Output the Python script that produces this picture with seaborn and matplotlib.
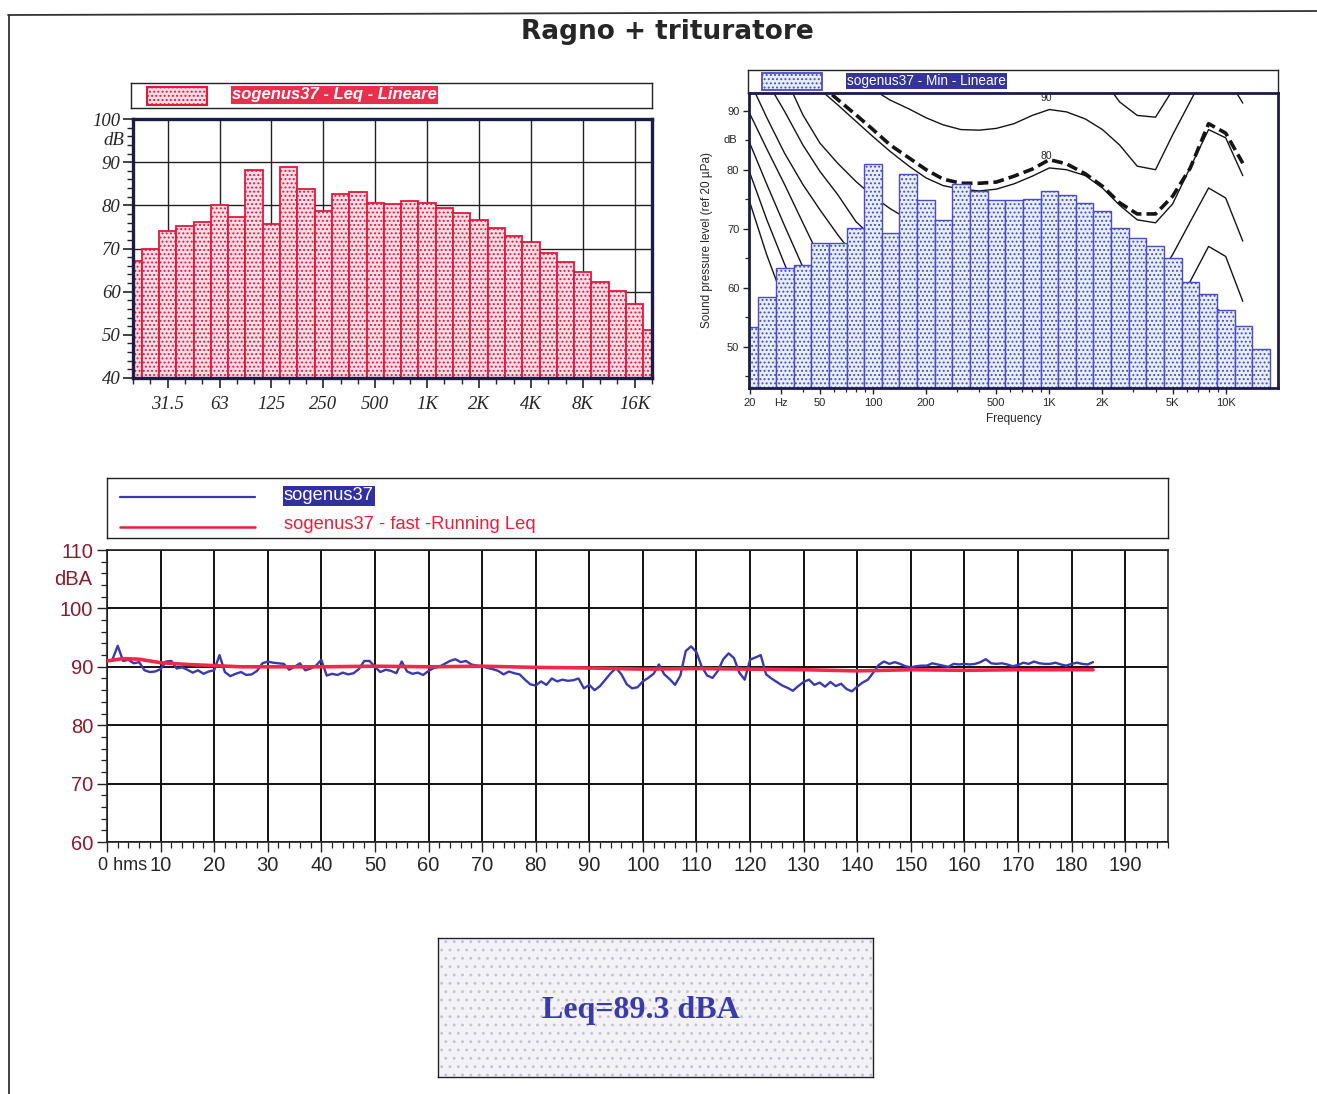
import numpy as np
import matplotlib
matplotlib.use("Agg")
import matplotlib.pyplot as plt
from matplotlib.lines import Line2D
from matplotlib.patches import Rectangle
from matplotlib.ticker import FixedLocator, MultipleLocator, NullFormatter, LogLocator
import seaborn as sns

# ---------------- data ----------------
TITLE = "Ragno + trituratore"

# left panel: 1/3 octave Leq spectrum (linear)
leq_bands = ["20", "25", "31.5", "40", "50", "63", "80", "100", "125", "160", "200", "250",
             "315", "400", "500", "630", "800", "1K", "1.25K", "1.6K", "2K", "2.5K", "3.15K",
             "4K", "5K", "6.3K", "8K", "10K", "12.5K", "16K", "20K"]
leq_db = [67.2, 69.9, 74.1, 75.1, 76.2, 80.0, 77.2, 88.2, 75.7, 88.9, 83.7, 78.8,
          82.6, 83.2, 80.6, 80.3, 81.0, 80.6, 79.3, 78.3, 76.5, 74.8, 72.8,
          71.4, 69.0, 66.8, 64.5, 62.3, 60.1, 57.2, 51.1]
leq_tick_labels = ["31.5", "63", "125", "250", "500", "1K", "2K", "4K", "8K", "16K"]
leq_legend = "sogenus37 - Leq - Lineare"

# right panel: 1/3 octave Min spectrum with equal-loudness contours
min_hz = [20, 25, 31.5, 40, 50, 63, 80, 100, 125, 160, 200, 250, 315, 400, 500, 630, 800,
          1000, 1250, 1600, 2000, 2500, 3150, 4000, 5000, 6300, 8000, 10000, 12500, 16000]
min_db = [53.4, 58.5, 63.3, 63.8, 67.5, 67.5, 70.1, 80.9, 69.3, 79.2, 74.8, 71.4, 77.5, 76.4,
          74.9, 74.9, 75.1, 76.4, 75.7, 74.3, 73.0, 70.2, 68.4, 67.0, 65.0, 61.0, 58.9, 56.2,
          53.5, 49.6]
min_legend = "sogenus37 - Min - Lineare"
min_tick_hz = [20, 30, 50, 100, 200, 500, 1000, 2000, 5000, 10000]
min_tick_labels = ["20", "Hz", "50", "100", "200", "500", "1K", "2K", "5K", "10K"]

c100_hz = [1250, 1600, 2000, 2500, 3150, 4000, 5000, 6300]
c100_db = [103.0, 99.5, 95.5, 91.5, 89.2, 88.9, 93.5, 100.0]
c90_hz = [63, 80, 100, 125, 160, 200, 250, 315, 400, 500, 630, 800, 1000, 1250, 1600, 2000,
          2500, 3150, 4000, 5000, 6300, 8000, 10000, 12500]
c90_db = [100.5, 96.8, 93.6, 91.8, 90.3, 88.8, 87.6, 86.8, 86.7, 87.0, 87.8, 89.2, 90.2, 89.8,
          88.6, 86.8, 84.2, 80.6, 80.0, 85.9, 91.6, 97.5, 96.0, 91.3]
c80_hz = [40, 50, 63, 80, 100, 125, 160, 200, 250, 315, 400, 500, 630, 800, 1000, 1250, 1600,
          2000, 2500, 3150, 4000, 5000, 6300, 8000, 10000, 12500]
c80_db = [98.0, 93.6, 91.0, 88.2, 85.6, 83.1, 80.6, 78.6, 77.3, 76.7, 76.4, 76.7, 77.6, 78.9,
          80.3, 80.0, 79.0, 76.9, 74.0, 71.5, 71.0, 74.2, 80.4, 86.8, 85.4, 79.0]
cref_hz = [40, 50, 63, 80, 100, 125, 160, 200, 250, 315, 400, 500, 630, 800, 1000, 1250, 1600,
           2000, 2500, 3150, 4000, 5000, 6300, 8000, 10000, 12500]
cref_db = [99.0, 94.5, 91.9, 89.3, 86.8, 84.2, 82.0, 80.0, 78.4, 77.7, 77.7, 77.9, 78.9, 80.1,
           81.7, 81.0, 79.3, 77.2, 74.4, 72.5, 72.5, 75.5, 80.3, 87.8, 86.2, 81.1]
c70_hz = [31.5, 40, 50, 63, 80, 100, 125, 160, 200, 250, 315, 400, 500, 630, 800, 1000, 1250,
          1600, 2000, 2500, 3150, 4000, 5000, 6300, 8000, 10000, 12500]
c70_db = [96.0, 89.3, 84.5, 81.1, 78.0, 75.5, 73.4, 71.5, 69.8, 68.5, 67.5, 67.0, 67.0, 67.8,
          69.0, 70.3, 70.0, 69.0, 67.0, 64.0, 61.5, 61.0, 65.6, 71.2, 76.9, 75.2, 67.9]
c60_hz = [25, 31.5, 40, 50, 63, 80, 100, 125, 160, 200, 250, 315, 400, 500, 630, 800, 1000,
          1250, 1600, 2000, 2500, 3150, 4000, 5000, 6300, 8000, 10000, 12500]
c60_db = [95.0, 89.9, 84.2, 79.7, 75.8, 71.2, 68.5, 66.0, 63.5, 61.5, 60.0, 58.8, 58.0, 57.8,
          58.2, 59.2, 60.3, 60.0, 59.0, 57.0, 54.5, 52.0, 51.5, 55.5, 61.1, 67.0, 65.3, 57.7]
c50_hz = [20, 25, 31.5, 40, 50, 63, 80, 100, 125, 160, 200, 250, 315, 400, 500, 630, 800, 1000,
          1250, 1600, 2000, 2500, 3150, 4000, 5000, 6300, 8000, 10000, 12500]
c50_db = [95.0, 88.8, 82.8, 77.5, 73.2, 69.0, 65.0, 62.0, 59.5, 57.0, 55.0, 53.5, 52.0, 51.0,
          50.2, 49.8, 49.5, 50.3, 50.0, 49.0, 47.0, 44.5, 42.5, 42.0, 45.5, 51.0, 57.2, 55.5, 48.0]
c40_hz = [20, 25, 31.5, 40, 50, 63, 80, 100, 125]
c40_db = [89.5, 83.5, 77.5, 71.0, 65.0, 60.0, 55.5, 52.0, 49.0]
c30_hz = [20, 25, 31.5, 40, 50, 63, 80]
c30_db = [84.5, 77.5, 70.5, 63.5, 57.5, 52.0, 47.5]
c20_hz = [20, 25, 31.5, 40, 50, 63]
c20_db = [79.5, 71.5, 64.0, 56.5, 50.0, 44.5]
c10_hz = [20, 25, 31.5, 40, 50]
c10_db = [74.5, 65.5, 57.5, 50.0, 43.5]

# bottom panel: time history (s, dBA)
time_s = list(range(0, 185))
level_dba = [
    91.0, 91.2, 93.6, 91.0, 91.2, 90.6, 90.8, 89.4, 89.1, 89.2,
    89.6, 90.9, 91.0, 89.7, 89.9, 89.5, 89.0, 89.4, 88.8, 89.2,
    89.4, 92.0, 89.1, 88.4, 88.8, 89.1, 88.6, 88.7, 89.3, 90.6,
    90.9, 90.7, 90.6, 90.5, 89.5, 90.0, 90.6, 89.4, 89.7, 90.2,
    91.2, 88.5, 88.8, 88.6, 89.0, 88.7, 88.9, 89.6, 91.0, 91.0,
    90.0, 89.1, 89.5, 89.3, 88.9, 90.9, 89.2, 88.8, 89.0, 88.6,
    89.3, 89.8, 90.0, 90.5, 91.0, 91.3, 90.8, 91.0, 90.4, 90.2,
    90.1, 89.8, 89.6, 89.3, 88.7, 89.2, 88.9, 88.7, 87.8, 87.0,
    86.8, 87.5, 86.9, 88.0, 87.5, 87.8, 87.6, 87.7, 88.0, 86.3,
    86.9, 86.0, 86.7, 87.8, 88.9, 89.8, 88.7, 87.0, 86.3, 86.5,
    87.5, 88.1, 88.8, 90.4, 88.7, 87.9, 86.9, 88.5, 92.7, 93.5,
    92.5, 90.0, 88.5, 88.1, 89.3, 91.3, 92.3, 91.5, 89.0, 87.8,
    91.2, 91.6, 92.0, 88.7, 88.0, 87.4, 86.8, 86.4, 85.9, 86.7,
    87.4, 87.8, 86.9, 87.3, 86.6, 87.4, 86.7, 87.1, 86.2, 85.8,
    86.6, 87.3, 87.8, 89.0, 90.3, 90.9, 90.5, 90.8, 90.5, 90.1,
    89.9, 90.1, 90.2, 90.2, 90.6, 90.4, 90.2, 90.0, 90.5, 90.4,
    90.5, 90.4, 90.5, 90.8, 91.3, 90.6, 90.5, 90.6, 90.4, 90.1,
    90.3, 90.7, 90.5, 90.9, 90.6, 90.5, 90.5, 90.7, 90.4, 90.2,
    90.5, 90.7, 90.5, 90.4, 90.8]
run_t = [0, 3, 6, 10, 15, 20, 25, 30, 40, 50, 60, 70, 80, 90, 100, 110, 120, 130, 140, 150,
         160, 170, 184]
run_leq = [91.0, 91.4, 91.3, 90.7, 90.4, 90.2, 90.0, 90.0, 90.0, 90.1, 90.0, 90.1, 89.9, 89.8,
           89.6, 89.7, 89.6, 89.5, 89.3, 89.5, 89.4, 89.5, 89.5]
time_ticks = list(range(0, 191, 10))
time_labels = [""] + [str(v) for v in time_ticks[1:]]
time_origin_label = "0 hms"
series_names = ["sogenus37", "sogenus37 - fast -Running Leq"]
LEQ_TEXT = "Leq=89.3 dBA"

# ---------------- style ----------------
sns.set_style("white")
plt.rcParams["font.family"] = ["DejaVu Sans"]
plt.rcParams["hatch.linewidth"] = 0.9

NARROW = ["Liberation Sans", "DejaVu Sans"]
SERIF = ["Liberation Serif", "DejaVu Serif"]
SANS = ["Liberation Sans", "DejaVu Sans"]
NAVY = "#1c1c48"
RED = "#e8163c"
PINK = "#fbdde6"
BLUE = "#4c4cc4"
LBLUE = "#e6eef9"
DARKRED = "#8c1a2c"

W, H = 1317, 1094
fig = plt.figure(figsize=(W / 100, H / 100), dpi=100)
fig.patch.set_facecolor("white")


def box(x0, y0, x1, y1):
    return [x0 / W, 1 - y1 / H, (x1 - x0) / W, (y1 - y0) / H]


def blank(ax):
    ax.set_xlim(0, 1)
    ax.set_ylim(0, 1)
    ax.set_xticks([])
    ax.set_yticks([])
    for s in ax.spines.values():
        s.set_visible(True)
        s.set_color("#222222")
        s.set_linewidth(1.0)


# page frame and title
fig.add_artist(Line2D([8 / W, 1.0], [1 - 15 / H, 1 - 11 / H], transform=fig.transFigure,
                      color="#333333", lw=1.3))
fig.add_artist(Line2D([9 / W, 9 / W], [1 - 15 / H, 0.0], transform=fig.transFigure,
                      color="#333333", lw=1.3))
fig.text(667 / W, 1 - 32 / H, TITLE, ha="center", va="center", fontsize=19,
         fontweight="bold", family=["DejaVu Sans"])

# ---------------- left panel ----------------
lg1 = fig.add_axes(box(131, 83, 652, 108))
blank(lg1)
lg1.add_patch(Rectangle((16 / 521, 0.12), 60 / 521, 0.72, facecolor=PINK, edgecolor=RED,
                        hatch="....", lw=1.5))
lg1.text(101 / 521, 0.52, leq_legend, ha="left", va="center", color="white", fontsize=12,
         fontstyle="italic", fontweight="bold", family=SANS,
         bbox=dict(facecolor="#e8304c", edgecolor="none", pad=1.0))

ax1 = fig.add_axes(box(133, 119, 652, 378))
sns.barplot(x=leq_bands, y=leq_db, order=leq_bands, ax=ax1, color=PINK, saturation=1,
            width=1.0, edgecolor=RED, linewidth=1.3, hatch="....", errorbar=None, zorder=3)
ax1.set_xlim(0, len(leq_bands) - 1)
ax1.set_ylim(40, 100)
major_idx = [leq_bands.index(l) for l in leq_tick_labels]
ax1.set_xticks(major_idx)
ax1.set_xticklabels(leq_tick_labels, fontstyle="italic", family=SERIF, fontsize=13.5)
ax1.xaxis.set_minor_locator(FixedLocator(list(range(len(leq_bands)))))
yt = list(range(40, 101, 10))
ax1.set_yticks(yt)
ax1.set_yticklabels([str(v) for v in yt], fontstyle="italic", family=SERIF, fontsize=13.5)
ax1.yaxis.set_minor_locator(MultipleLocator(2))
ax1.text(-0.016, 95, "dB", transform=ax1.get_yaxis_transform(), ha="right", va="center",
         fontstyle="italic", family=SERIF, fontsize=13.5)
ax1.set_axisbelow(True)
ax1.grid(True, which="major", axis="both", color="#222222", lw=1.0)
ax1.tick_params(axis="x", which="major", direction="out", length=7, width=1.2,
                color="#222222", pad=6)
ax1.tick_params(axis="y", which="major", direction="out", length=7, width=1.2,
                color="#222222", pad=2)
ax1.tick_params(which="minor", direction="out", length=4, width=1.0, color="#222222")
ax1.tick_params(axis="both", which="both", bottom=True, left=True)
ax1.set_xlabel("")
ax1.set_ylabel("")
for s in ax1.spines.values():
    s.set_color(NAVY)
    s.set_linewidth(2.4)
    s.set_zorder(5)

# ---------------- right panel ----------------
lg2 = fig.add_axes(box(748, 70, 1278, 93))
blank(lg2)
lg2.add_patch(Rectangle((14 / 530, 0.13), 60 / 530, 0.74, facecolor=LBLUE, edgecolor=BLUE,
                        hatch="....", lw=1.3))
lg2.text(99 / 530, 0.52, min_legend, ha="left", va="center", color="white", fontsize=9.8,
         family=NARROW, bbox=dict(facecolor="#34349a", edgecolor="none", pad=1.0))

ax2 = fig.add_axes(box(749, 93, 1278, 388))
ax2.set_xscale("log")
for hz, db in [(c100_hz, c100_db), (c90_hz, c90_db), (c80_hz, c80_db), (c70_hz, c70_db),
               (c60_hz, c60_db), (c50_hz, c50_db), (c40_hz, c40_db), (c30_hz, c30_db),
               (c20_hz, c20_db), (c10_hz, c10_db)]:
    sns.lineplot(x=hz, y=db, ax=ax2, color="#151515", lw=1.0, zorder=1)
sns.lineplot(x=cref_hz, y=cref_db, ax=ax2, color="#151515", lw=2.6,
             linestyle=(0, (3.0, 1.4)), zorder=1)
band_pos = 10 ** (np.round(10 * np.log10(min_hz)) / 10)
sns.barplot(x=band_pos, y=min_db, native_scale=True, orient="x", ax=ax2, color=LBLUE,
            saturation=1, width=1.0, edgecolor=BLUE, linewidth=1.0, hatch="....",
            errorbar=None, zorder=3)
ax2.set_xlim(19.8, 19800)
ax2.set_ylim(43, 93)
ax2.set_xticks(min_tick_hz)
ax2.set_xticklabels(min_tick_labels, family=SANS, fontsize=8)
ax2.xaxis.set_minor_locator(LogLocator(base=10, subs=tuple(range(2, 10)), numticks=20))
ax2.xaxis.set_minor_formatter(NullFormatter())
ax2.set_yticks([50, 60, 70, 80, 90])
ax2.set_yticklabels(["50", "60", "70", "80", "90"], family=SANS, fontsize=8)
ax2.yaxis.set_minor_locator(FixedLocator([45, 55, 65, 75, 85]))
ax2.text(-0.022, 85, "dB", transform=ax2.get_yaxis_transform(), ha="right", va="center",
         family=SANS, fontsize=8)
ax2.text(960, 92.1, "90", ha="center", va="center", family=SANS, fontsize=7.5, zorder=4)
ax2.text(960, 82.3, "80", ha="center", va="center", family=SANS, fontsize=7.5, zorder=4)
ax2.tick_params(which="major", direction="out", length=4, width=1.0, color="#222222", pad=3)
ax2.tick_params(which="minor", direction="out", length=3, width=0.9, color="#222222")
ax2.tick_params(axis="both", which="both", bottom=True, left=True)
ax2.set_xlabel("Frequency", family=SANS, fontsize=8.5, labelpad=4)
ax2.set_ylabel("Sound pressure level (ref 20 \u00b5Pa)", family=SANS, fontsize=8.5,
               labelpad=10)
for s in ax2.spines.values():
    s.set_color(NAVY)
    s.set_linewidth(2.0)
    s.set_zorder(5)

# ---------------- bottom panel ----------------
lg3 = fig.add_axes(box(107, 478, 1168, 538))
blank(lg3)
lg3.add_line(Line2D([13 / 1061, 148 / 1061], [0.68, 0.68], color="#3a3aa8", lw=1.6))
lg3.add_line(Line2D([13 / 1061, 148 / 1061], [0.19, 0.19], color="#e8203a", lw=1.8))
lg3.text(177 / 1061, 0.70, series_names[0], ha="left", va="center", color="white",
         fontsize=13.2, family=NARROW, bbox=dict(facecolor="#3030a0", edgecolor="none", pad=0.8))
lg3.text(177 / 1061, 0.22, series_names[1], ha="left", va="center", color="#e8203a",
         fontsize=13.2, family=NARROW)

ax3 = fig.add_axes(box(107, 550, 1168, 842))
sns.lineplot(x=time_s, y=level_dba, ax=ax3, color="#3a3ab0", lw=1.7, zorder=3)
sns.lineplot(x=run_t, y=run_leq, ax=ax3, color="#f0284a", lw=2.6, zorder=4)
ax3.set_xlim(0, 198)
ax3.set_ylim(60, 110)
ax3.set_xticks(time_ticks)
ax3.set_xticklabels(time_labels, family=NARROW, fontsize=14.5)
ax3.annotate(time_origin_label, xy=(0, 0), xycoords=("data", "axes fraction"),
             xytext=(-6.5, -10.5), textcoords="offset points", ha="left", va="top",
             family=NARROW, fontsize=13)
ax3.xaxis.set_minor_locator(MultipleLocator(2))
ax3.set_yticks(list(range(60, 111, 10)))
ax3.set_yticklabels([str(v) for v in range(60, 111, 10)], family=NARROW, fontsize=14.5,
                    color=DARKRED)
ax3.yaxis.set_minor_locator(MultipleLocator(2))
ax3.text(-0.014, 105, "dBA", transform=ax3.get_yaxis_transform(), ha="right", va="center",
         family=NARROW, fontsize=14.5, color=DARKRED)
ax3.set_axisbelow(True)
ax3.grid(True, which="major", color="#111111", lw=1.4)
ax3.tick_params(which="major", direction="out", length=7, width=1.0, color="#222222", pad=3)
ax3.tick_params(which="minor", direction="out", length=4, width=0.9, color="#222222")
ax3.tick_params(axis="both", which="both", bottom=True, left=True)
ax3.set_xlabel("")
ax3.set_ylabel("")
for s in ax3.spines.values():
    s.set_color("#222222")
    s.set_linewidth(1.2)

# ---------------- Leq box ----------------
lb = fig.add_axes(box(438, 938, 873, 1077))
blank(lb)
lb.add_patch(Rectangle((0, 0), 1, 1, facecolor="#f2f2f7", edgecolor="#c4c4d2", hatch="..",
                       lw=0, zorder=0))
lb.text(0.467, 0.48, LEQ_TEXT, ha="center", va="center", fontsize=23, fontweight="bold",
        family=SERIF, color="#3a3aa8")

fig.savefig("out.png", dpi=100, facecolor="white")
